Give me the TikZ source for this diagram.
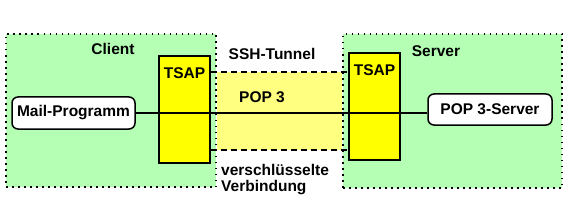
\documentclass[tikz,border=0pt]{standalone}
\usepackage{fontspec}
\setmainfont{Liberation Sans}
\definecolor{hostgreen}{RGB}{180,255,180}
\definecolor{tsapyellow}{RGB}{255,255,0}
\definecolor{tunnelyellow}{RGB}{255,255,128}
\begin{document}
\begin{tikzpicture}[x=1pt,y=-1pt,font=\fontsize{15.5}{16}\selectfont\bfseries,
    host/.style={fill=hostgreen, draw, line width=1.5pt, dash pattern=on 1.5pt off 4.5pt, inner sep=0pt},
    tsap/.style={fill=tsapyellow, draw, line width=1.5pt, inner sep=0pt},
    prog/.style={draw, fill=white, rounded corners=6pt, line width=1.5pt, inner sep=0pt},
    tunnel/.style={line width=1.5pt, dash pattern=on 6pt off 4pt}]
    \useasboundingbox (0,0) rectangle (569,219);
    % hosts
    \node[host, minimum width=210pt, minimum height=153pt] (client) at (111,110.5) {};
    \node[host, minimum width=219pt, minimum height=154pt] (server) at (452.5,111) {};
    \node (clientlabel) at (113,48.5) {Client};
    \node (serverlabel) at (436,51) {Server};
    % tunnel
    \fill[tunnelyellow] (client.east |- 0,72) rectangle (server.west |- 0,150);
    \node[tsap, minimum width=51pt, minimum height=107pt] (ctsap) at (184.5,109.5) {};
    \node[tsap, minimum width=51pt, minimum height=107pt] (stsap) at (374.5,106.5) {};
    \node (ctsaplabel) at (184.5,73) {TSAP};
    \node (stsaplabel) at (374.5,70) {TSAP};
    \draw[tunnel] (ctsap.east |- 0,72) -- (stsap.west |- 0,72);
    \draw[tunnel] (ctsap.east |- 0,150) -- (stsap.west |- 0,150);
    \node (sshlabel) at (272,54) {SSH-Tunnel};
    \node (poplabel) at (262,97.5) {POP 3};
    \node[align=left, anchor=north west, inner sep=0pt] (cryptlabel) at (221,164) {verschlüsselte\\Verbindung};
    % programs
    \node[prog, minimum width=123pt, minimum height=32pt] (mail) at (73.5,113) {Mail-Programm};
    \node[prog, minimum width=124pt, minimum height=31pt] (popserver) at (490,109.5) {POP 3-Server};
    \draw[line width=1.5pt] (mail.east) -- (mail.east -| popserver.west);
\end{tikzpicture}
\end{document}
